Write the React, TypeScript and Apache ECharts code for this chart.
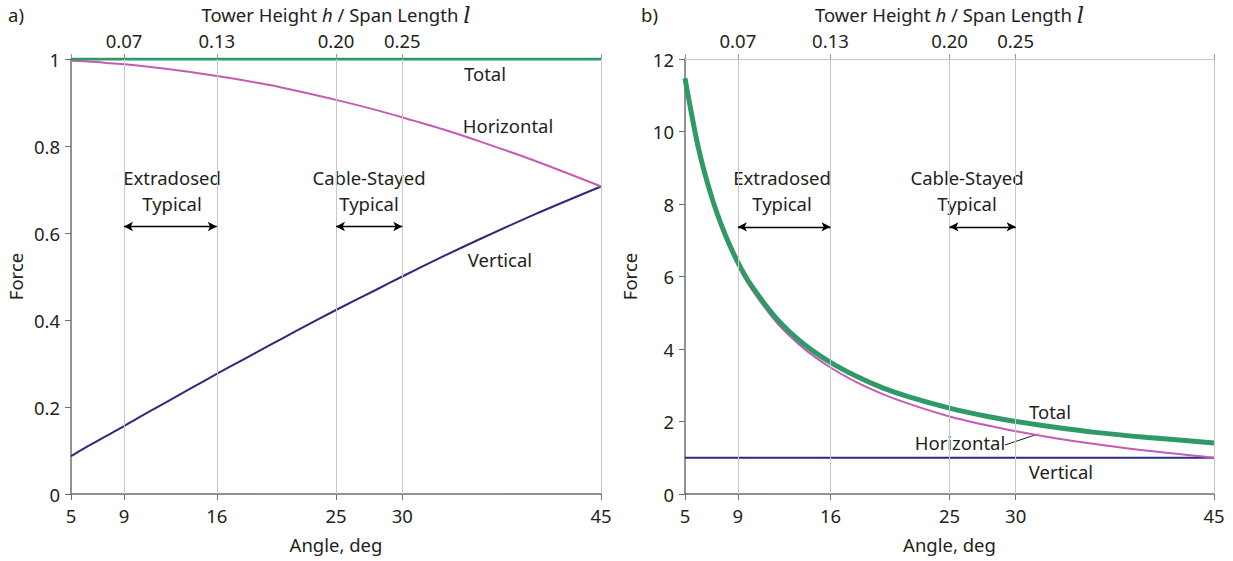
import React, { useEffect, useRef } from "react";
import * as echarts from "echarts";

// Angles (deg) at which the curves were read
const angles = [5, 6, 7, 8, 9, 10, 12, 14, 16, 18, 20, 22, 25, 28, 30, 33, 36, 40, 45];

// Panel a) normalised to total force
const aTotal = [1, 1, 1, 1, 1, 1, 1, 1, 1, 1, 1, 1, 1, 1, 1, 1, 1, 1, 1];
const aHorizontal = [0.996, 0.995, 0.993, 0.99, 0.988, 0.985, 0.978, 0.97, 0.961, 0.951, 0.94, 0.927, 0.906, 0.883, 0.866, 0.839, 0.809, 0.766, 0.707];
const aVertical = [0.087, 0.105, 0.122, 0.139, 0.156, 0.174, 0.208, 0.242, 0.276, 0.309, 0.342, 0.375, 0.423, 0.469, 0.5, 0.545, 0.588, 0.643, 0.707];

// Panel b) normalised to vertical force
const bTotal = [11.47, 9.57, 8.21, 7.19, 6.39, 5.76, 4.81, 4.13, 3.63, 3.24, 2.92, 2.67, 2.37, 2.13, 2.0, 1.84, 1.7, 1.56, 1.41];
const bHorizontal = [11.43, 9.51, 8.14, 7.12, 6.31, 5.67, 4.7, 4.01, 3.49, 3.08, 2.75, 2.48, 2.14, 1.88, 1.73, 1.54, 1.38, 1.19, 1.0];
const bVertical = [1, 1, 1, 1, 1, 1, 1, 1, 1, 1, 1, 1, 1, 1, 1, 1, 1, 1, 1];

// Axis ticks
const angleTicks = [5, 9, 16, 25, 30, 45];
const gridAngles = [9, 16, 25, 30, 45];
const ratioAngles = [9, 16, 25, 30];
const ratioLabels = ["0.07", "0.13", "0.20", "0.25"];

// Typical ranges
const extradosedRange = [9, 16];
const cableStayedRange = [25, 30];
const arrowLevelA = 0.615;
const arrowLevelB = 7.37;

const FONT = "'Noto Sans', 'Open Sans', sans-serif";
const INK = "#231f20";
const GREEN = "#2f9a68";
const MAGENTA = "#c65bb5";
const NAVY = "#2d2a7b";
const GRIDC = "#c8c8c8";
const AXISC = "#6d6e70";
const FS = 18.5;

const pairs = (vals: number[]) => angles.map((a, i) => [a, vals[i]]);

export default function App() {
  const ref = useRef<HTMLDivElement>(null);
  useEffect(() => {
    document.body.style.margin = "0";
    if (!ref.current) return;
    const chart = echarts.init(ref.current, undefined, { renderer: "svg" });

    const bottomAxis = (gridIndex: number) => ({
      type: "value",
      gridIndex,
      position: "bottom",
      min: 5,
      max: 45,
      name: "Angle, deg",
      nameLocation: "middle",
      nameGap: 41,
      nameTextStyle: { fontSize: FS, color: INK, fontFamily: FONT },
      axisLine: { show: true, onZero: false, lineStyle: { color: AXISC, width: 1.5 } },
      axisTick: { show: true, length: 6, customValues: angleTicks, lineStyle: { color: AXISC } },
      axisLabel: { customValues: angleTicks, fontSize: FS, color: INK, fontFamily: FONT, margin: 12 },
      splitLine: { show: false },
    });

    const topAxis = (gridIndex: number) => ({
      type: "value",
      gridIndex,
      position: "top",
      min: 5,
      max: 45,
      name: "Tower Height {i|h} / Span Length {s|l}",
      nameLocation: "middle",
      nameGap: 32,
      nameTextStyle: {
        fontSize: FS,
        color: INK,
        fontFamily: FONT,
        rich: {
          i: { fontStyle: "italic", fontSize: FS, color: INK, fontFamily: FONT },
          s: { fontStyle: "italic", fontSize: 23, color: INK, fontFamily: "'DejaVu Serif', serif" },
        },
      },
      axisLine: { show: true, onZero: false, lineStyle: { color: GRIDC, width: 1 } },
      axisTick: { show: true, length: 5, customValues: angleTicks, lineStyle: { color: "#9a9a9a" } },
      axisLabel: {
        customValues: ratioAngles,
        fontSize: FS,
        color: INK,
        fontFamily: FONT,
        margin: 9,
        formatter: (v: number) => {
          const i = ratioAngles.indexOf(v);
          return i >= 0 ? ratioLabels[i] : "";
        },
      },
      splitLine: { show: false },
    });

    const yAxis = (gridIndex: number, max: number, interval: number) => ({
      type: "value",
      gridIndex,
      min: 0,
      max,
      interval,
      name: "Force",
      nameLocation: "middle",
      nameGap: 46,
      nameTextStyle: { fontSize: FS, color: INK, fontFamily: FONT },
      axisLine: { show: true, lineStyle: { color: AXISC, width: 1.5 } },
      axisTick: { show: true, length: 6, lineStyle: { color: AXISC } },
      axisLabel: { fontSize: FS, color: INK, fontFamily: FONT, margin: 11 },
      splitLine: { show: false },
    });

    const gridSeries = (idx: number) => ({
      type: "line",
      xAxisIndex: idx * 2,
      yAxisIndex: idx,
      data: [],
      silent: true,
      z: 1,
      markLine: {
        silent: true,
        symbol: "none",
        label: { show: false },
        lineStyle: { color: GRIDC, width: 1, type: "solid" },
        data: gridAngles.map((a) => ({ xAxis: a })),
      },
    });

    const arrowSeries = (idx: number, level: number) => ({
      type: "line",
      xAxisIndex: idx * 2,
      yAxisIndex: idx,
      data: [],
      silent: true,
      z: 5,
      markLine: {
        silent: true,
        symbol: ["arrow", "arrow"],
        symbolSize: [7, 9],
        label: { show: false },
        lineStyle: { color: "#000", width: 1.3, type: "solid" },
        data: [
          [{ coord: [extradosedRange[0], level] }, { coord: [extradosedRange[1], level] }],
          [{ coord: [cableStayedRange[0], level] }, { coord: [cableStayedRange[1], level] }],
        ],
      },
    });

    const line = (idx: number, vals: number[], color: string, width: number, z: number) => ({
      type: "line",
      xAxisIndex: idx * 2,
      yAxisIndex: idx,
      data: pairs(vals),
      smooth: 0.3,
      showSymbol: false,
      symbol: "none",
      z,
      lineStyle: { color, width },
    });

    const txt = (text: string, x: number, y: number) => ({
      type: "text",
      x,
      y,
      style: { text, fontSize: FS, fontFamily: FONT, fill: INK, align: "center", verticalAlign: "middle" },
    });

    chart.setOption({
      animation: false,
      backgroundColor: "#ffffff",
      grid: [
        { left: 71, right: 632, top: 59, bottom: 67, containLabel: false, outerBoundsMode: "none" },
        { left: 685, right: 19, top: 59, bottom: 67, containLabel: false, outerBoundsMode: "none" },
      ],
      xAxis: [bottomAxis(0), topAxis(0), bottomAxis(1), topAxis(1)],
      yAxis: [yAxis(0, 1, 0.2), yAxis(1, 12, 2)],
      series: [
        gridSeries(0),
        gridSeries(1),
        arrowSeries(0, arrowLevelA),
        arrowSeries(1, arrowLevelB),
        line(0, aVertical, NAVY, 2, 3),
        line(0, aHorizontal, MAGENTA, 2, 3),
        line(0, aTotal, GREEN, 3, 4),
        line(1, bVertical, NAVY, 2, 3),
        line(1, bHorizontal, MAGENTA, 2, 3),
        line(1, bTotal, GREEN, 5, 4),
      ],
      graphic: [
        { type: "text", left: 8, top: 5, style: { text: "a)", fontSize: FS, fontFamily: FONT, fill: INK } },
        { type: "text", left: 641, top: 5, style: { text: "b)", fontSize: FS, fontFamily: FONT, fill: INK } },
        txt("Total", 485, 73),
        txt("Horizontal", 508, 125),
        txt("Vertical", 500, 259),
        txt("Extradosed", 172, 177),
        txt("Typical", 172, 203),
        txt("Cable-Stayed", 369, 177),
        txt("Typical", 369, 203),
        txt("Extradosed", 782, 177),
        txt("Typical", 782, 203),
        txt("Cable-Stayed", 967, 177),
        txt("Typical", 967, 203),
        txt("Total", 1050, 411),
        txt("Horizontal", 960, 442),
        txt("Vertical", 1061, 471),
        {
          type: "line",
          shape: { x1: 1005, y1: 445, x2: 1038, y2: 434 },
          style: { stroke: INK, lineWidth: 1 },
        },
      ],
    });
    return () => chart.dispose();
  }, []);
  return <div ref={ref} style={{ width: 1233, height: 561 }} />;
}
